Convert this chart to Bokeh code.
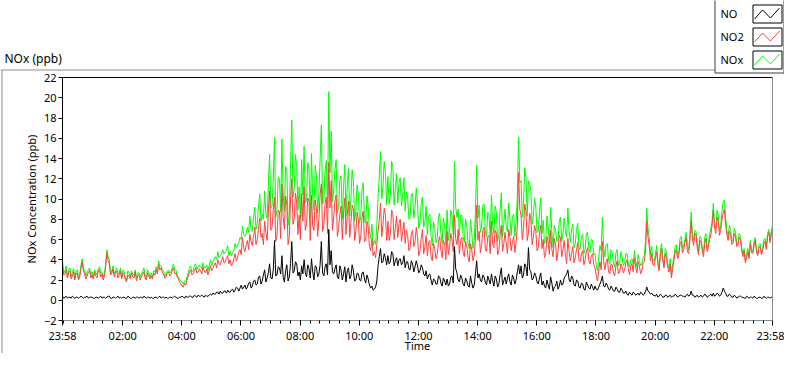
import numpy as np
from bokeh.plotting import figure
from bokeh.models import Range1d, FixedTicker
from bokeh.embed import file_html
from bokeh.resources import INLINE
from bokeh.core.properties import value

# ---- data: readings every 5 minutes starting 23:58 ("a"), plus readings
#      taken half-way between them ("b") ----
no2_a = [
    3.4, 2.6, 2.2, 2.9, 2.4, 2.0, 2.7, 2.3, 3.8, 2.6, 2.4, 2.9,
    2.5, 2.8, 2.2, 3.0, 2.6, 2.4, 4.7, 3.6, 2.7, 2.3, 2.9, 2.5,
    2.1, 2.6, 1.8, 2.4, 2.7, 2.2, 1.9, 2.5, 2.3, 2.8, 2.0, 2.4,
    2.4, 2.7, 3.0, 3.5, 3.2, 2.6, 2.3, 2.8, 2.5, 3.2, 2.7, 2.1,
    1.6, 1.3, 1.5, 2.4, 3.0, 2.6, 3.2, 2.8, 2.9, 3.3, 2.7, 2.5,
    3.4, 3.1, 3.7, 4.0, 3.5, 4.3, 3.8, 4.4, 4.0, 3.6, 4.6, 4.2,
    5.0, 6.2, 4.8, 5.9, 6.5, 5.4, 7.2, 6.0, 8.1, 6.6, 7.8, 5.9,
    10.8, 7.2, 10.2, 6.4, 8.8, 11.5, 7.0, 9.4, 6.2, 12.0, 8.1, 9.6,
    8.4, 10.5, 11.2, 7.6, 9.8, 10.4, 6.9, 9.1, 8.0, 11.5, 7.4, 10.2,
    13.6, 11.8, 8.2, 10.4, 7.1, 9.3, 8.6, 6.5, 9.8, 7.7, 8.9, 6.8,
    7.9, 6.4, 8.8, 5.9, 7.2, 4.9, 4.4, 4.2, 6.8, 9.6, 7.5, 8.4,
    7.8, 6.5, 8.6, 7.1, 6.2, 8.0, 6.8, 5.6, 6.4, 5.2, 6.9, 5.8,
    6.2, 4.8, 7.0, 5.3, 4.4, 5.9, 3.9, 5.1, 4.5, 6.3, 4.2, 5.5,
    6.8, 5.2, 6.0, 8.4, 5.5, 4.6, 6.2, 4.3, 5.4, 3.8, 5.0, 4.4,
    9.4, 6.8, 5.4, 7.2, 4.8, 6.4, 7.8, 5.2, 6.6, 4.9, 7.4, 5.6,
    5.6, 7.0, 4.9, 6.3, 5.8, 12.6, 8.4, 7.1, 8.8, 6.6, 7.9, 6.2,
    6.8, 5.2, 7.4, 6.0, 4.6, 5.8, 6.9, 4.3, 5.5, 4.8, 6.2, 5.0,
    4.5, 6.1, 3.9, 5.3, 4.2, 5.7, 3.8, 4.9, 4.0, 5.2, 3.6, 4.6,
    3.2, 1.9, 3.8, 5.8, 3.0, 4.1, 2.6, 3.5, 2.4, 3.9, 2.8, 3.3,
    3.0, 4.0, 2.5, 3.6, 4.2, 2.7, 3.4, 2.9, 3.8, 7.8, 5.4, 4.6,
    3.4, 4.8, 2.9, 5.1, 3.2, 4.2, 2.8, 2.2, 3.9, 5.0, 4.4, 5.8,
    5.0, 6.2, 4.6, 7.8, 5.4, 6.4, 4.5, 5.7, 4.3, 6.1, 5.2, 6.5,
    8.9, 6.6, 7.8, 6.9, 8.6, 7.4, 5.9, 6.5, 5.6, 6.3, 5.4, 6.0,
    4.3, 3.7, 4.8, 5.6, 4.6, 5.9, 4.4, 5.3, 4.9, 5.8, 6.3, 5.7,
    7.1,
]
no2_b = [
    2.5, 3.0, 2.7, 2.1, 2.8, 2.6, 2.0, 3.1, 2.9, 2.1, 2.8, 2.2,
    2.1, 2.4, 2.9, 2.3, 2.0, 3.3, 3.9, 2.5, 3.1, 2.7, 2.2, 2.9,
    2.7, 2.0, 2.5, 2.1, 2.3, 2.8, 2.4, 2.0, 2.6, 2.2, 2.7, 2.1,
    2.1, 2.5, 2.6, 3.0, 2.7, 2.2, 2.7, 2.4, 3.0, 2.6, 2.3, 1.8,
    1.4, 1.7, 2.0, 2.8, 2.5, 2.9, 2.7, 3.1, 2.6, 2.9, 3.1, 2.9,
    2.9, 3.5, 3.2, 3.6, 3.9, 3.7, 4.2, 3.6, 3.4, 4.1, 3.9, 4.8,
    4.5, 5.2, 5.5, 5.0, 5.8, 6.3, 5.5, 7.0, 6.2, 5.5, 6.7, 8.6,
    6.9, 9.0, 5.8, 8.9, 6.1, 8.2, 10.3, 5.5, 9.9, 7.5, 10.6, 6.5,
    6.0, 7.8, 6.9, 10.1, 5.9, 7.3, 9.9, 6.3, 10.4, 6.8, 9.5, 6.6,
    9.1, 6.9, 9.8, 6.3, 8.5, 6.0, 10.1, 8.4, 6.2, 9.4, 5.9, 8.7,
    5.6, 8.2, 5.8, 7.8, 5.3, 6.1, 4.8, 5.5, 8.0, 6.3, 9.1, 5.9,
    5.9, 8.9, 6.0, 8.3, 7.6, 5.8, 7.7, 6.9, 4.9, 6.6, 5.3, 7.2,
    4.4, 6.1, 4.6, 6.4, 5.7, 4.3, 5.6, 4.1, 5.8, 4.9, 5.9, 4.0,
    4.5, 6.6, 4.8, 6.1, 7.0, 5.9, 4.7, 5.8, 4.2, 5.6, 3.9, 6.1,
    5.9, 4.7, 6.9, 5.1, 6.3, 4.6, 5.5, 6.9, 4.5, 6.4, 4.8, 6.7,
    4.6, 6.2, 5.7, 4.7, 7.4, 9.0, 6.0, 9.5, 5.9, 8.6, 5.5, 7.4,
    4.9, 6.6, 5.1, 4.2, 6.3, 4.5, 5.0, 6.1, 3.9, 6.4, 4.3, 5.9,
    3.6, 4.8, 4.7, 3.7, 5.0, 3.9, 4.6, 3.5, 4.8, 3.9, 4.4, 3.5,
    2.4, 2.9, 3.0, 3.9, 3.8, 2.8, 3.6, 2.7, 3.4, 2.6, 3.6, 2.7,
    3.7, 3.1, 3.4, 2.8, 3.3, 3.8, 2.6, 3.7, 4.9, 6.2, 3.9, 3.5,
    4.1, 3.6, 4.3, 3.9, 4.6, 3.3, 3.6, 3.1, 4.7, 4.1, 5.6, 4.7,
    5.7, 4.8, 5.9, 6.1, 6.6, 5.1, 5.9, 4.9, 5.6, 4.8, 6.0, 7.4,
    7.1, 8.2, 6.4, 8.0, 9.0, 6.5, 6.8, 5.5, 6.6, 5.3, 6.2, 4.9,
    4.9, 4.2, 4.1, 4.7, 5.4, 4.8, 5.2, 4.5, 5.6, 5.0, 6.7, 6.5,
]

no_a = [
    0.4, 0.3, 0.2, 0.3, 0.4, 0.2, 0.3, 0.3, 0.3, 0.3, 0.4, 0.3,
    0.3, 0.2, 0.3, 0.3, 0.2, 0.3, 0.3, 0.4, 0.2, 0.3, 0.3, 0.2,
    0.2, 0.3, 0.2, 0.3, 0.2, 0.3, 0.3, 0.2, 0.3, 0.4, 0.2, 0.3,
    0.3, 0.2, 0.3, 0.3, 0.2, 0.3, 0.3, 0.2, 0.3, 0.3, 0.3, 0.2,
    0.3, 0.3, 0.4, 0.3, 0.4, 0.3, 0.4, 0.5, 0.4, 0.4, 0.5, 0.4,
    0.6, 0.7, 0.6, 0.8, 0.9, 0.7, 0.9, 1.0, 0.8, 1.1, 1.0, 1.2,
    1.2, 1.1, 1.5, 1.3, 1.8, 1.4, 2.0, 1.6, 2.4, 1.9, 3.0, 2.2,
    3.6, 2.1, 5.9, 2.5, 3.2, 4.4, 1.8, 3.5, 2.3, 5.8, 2.9, 3.6,
    2.8, 3.4, 4.0, 2.3, 3.1, 4.1, 2.0, 3.3, 2.6, 5.8, 2.4, 3.6,
    7.0, 4.9, 2.6, 3.5, 2.1, 3.0, 2.6, 1.8, 3.2, 2.4, 2.9, 2.0,
    2.6, 1.9, 2.8, 1.7, 2.1, 1.2, 1.0, 1.3, 3.4, 5.1, 3.8, 4.2,
    4.4, 3.8, 4.6, 3.9, 3.4, 4.1, 3.7, 3.2, 3.8, 3.0, 3.6, 3.3,
    3.4, 2.9, 3.2, 2.4, 2.1, 2.6, 1.5, 2.0, 1.6, 2.3, 1.4, 1.9,
    2.1, 1.6, 2.4, 5.3, 2.7, 1.8, 2.2, 1.4, 1.9, 1.3, 1.7, 1.5,
    3.9, 2.6, 1.8, 2.3, 1.5, 2.0, 2.6, 1.4, 2.1, 1.6, 3.2, 1.9,
    1.6, 2.6, 1.5, 2.2, 2.0, 3.5, 3.4, 2.5, 3.3, 5.2, 2.8, 2.2,
    2.4, 1.6, 2.7, 1.9, 1.2, 1.5, 2.3, 0.9, 1.4, 1.1, 2.0, 1.6,
    2.4, 3.0, 1.8, 2.2, 1.4, 1.9, 1.2, 1.6, 1.0, 1.5, 1.1, 1.3,
    1.4, 1.0, 1.6, 2.4, 1.3, 1.5, 1.0, 1.2, 0.9, 1.1, 0.8, 1.0,
    0.7, 0.6, 0.8, 0.5, 0.7, 0.6, 0.5, 0.7, 0.6, 1.3, 0.8, 0.7,
    0.5, 0.6, 0.4, 0.5, 0.3, 0.5, 0.4, 0.3, 0.4, 0.5, 0.4, 0.5,
    0.4, 0.5, 0.4, 0.9, 0.5, 0.4, 0.3, 0.5, 0.4, 0.5, 0.4, 0.6,
    0.7, 0.5, 0.6, 0.5, 1.2, 0.7, 0.4, 0.5, 0.3, 0.4, 0.3, 0.4,
    0.3, 0.2, 0.3, 0.3, 0.2, 0.3, 0.2, 0.3, 0.2, 0.3, 0.3, 0.2,
    0.3,
]
no_b = [
    0.2, 0.4, 0.3, 0.2, 0.3, 0.3, 0.2, 0.4, 0.2, 0.3, 0.2, 0.3,
    0.2, 0.3, 0.2, 0.4, 0.3, 0.2, 0.4, 0.2, 0.3, 0.2, 0.4, 0.3,
    0.3, 0.2, 0.4, 0.2, 0.3, 0.2, 0.3, 0.3, 0.2, 0.3, 0.3, 0.2,
    0.2, 0.3, 0.2, 0.4, 0.3, 0.2, 0.2, 0.3, 0.2, 0.4, 0.2, 0.3,
    0.4, 0.2, 0.3, 0.4, 0.3, 0.5, 0.3, 0.4, 0.5, 0.3, 0.4, 0.5,
    0.5, 0.6, 0.8, 0.6, 0.7, 0.9, 0.7, 0.8, 1.0, 0.8, 1.3, 0.9,
    1.5, 1.3, 1.1, 1.7, 1.2, 1.9, 1.5, 2.3, 1.6, 2.5, 1.8, 2.7,
    2.2, 3.0, 2.4, 3.3, 2.6, 2.3, 2.9, 1.9, 3.6, 2.7, 3.8, 2.4,
    2.0, 2.6, 2.7, 3.5, 2.2, 2.8, 3.4, 2.3, 3.5, 2.7, 3.3, 2.5,
    3.5, 2.8, 3.1, 2.3, 3.4, 2.0, 3.3, 2.9, 2.1, 3.5, 1.9, 2.7,
    2.0, 2.7, 2.1, 2.5, 1.5, 1.4, 1.1, 1.9, 4.3, 3.7, 4.6, 3.5,
    3.6, 4.8, 3.4, 4.2, 4.0, 3.5, 4.4, 3.8, 3.1, 3.9, 2.8, 3.9,
    2.7, 3.5, 2.6, 2.9, 2.5, 2.0, 2.1, 1.6, 2.4, 1.7, 2.2, 1.5,
    1.4, 2.3, 1.7, 3.1, 2.0, 2.5, 1.6, 2.2, 1.4, 2.4, 1.2, 2.6,
    2.2, 2.0, 2.5, 1.8, 2.4, 1.6, 1.9, 2.4, 1.3, 2.5, 1.5, 2.3,
    2.2, 1.8, 2.5, 1.6, 2.8, 2.6, 2.2, 3.6, 2.4, 3.0, 2.0, 2.7,
    1.8, 2.2, 1.5, 1.4, 2.0, 1.1, 1.7, 1.3, 1.9, 1.4, 1.5, 2.2,
    2.6, 2.0, 2.4, 1.5, 2.0, 1.3, 1.7, 1.1, 1.8, 1.2, 1.6, 1.0,
    1.1, 1.3, 1.9, 1.4, 1.7, 1.1, 1.4, 0.9, 1.3, 0.8, 1.2, 0.7,
    0.9, 0.5, 0.6, 0.8, 0.5, 0.7, 0.8, 0.5, 0.9, 0.9, 0.6, 0.5,
    0.4, 0.3, 0.6, 0.3, 0.5, 0.3, 0.5, 0.4, 0.6, 0.3, 0.5, 0.4,
    0.3, 0.6, 0.5, 0.5, 0.3, 0.5, 0.4, 0.3, 0.6, 0.3, 0.5, 0.4,
    0.4, 0.7, 0.4, 0.8, 0.9, 0.4, 0.6, 0.3, 0.5, 0.2, 0.4, 0.3,
    0.2, 0.4, 0.2, 0.3, 0.4, 0.2, 0.3, 0.2, 0.4, 0.2, 0.3, 0.3,
]

nox_a = [
    3.8, 2.9, 2.4, 3.2, 2.8, 2.2, 3.0, 2.6, 4.1, 2.9, 2.8, 3.2,
    2.8, 3.0, 2.5, 3.3, 2.8, 2.7, 5.0, 4.0, 2.9, 2.6, 3.2, 2.7,
    2.3, 2.9, 2.0, 2.7, 2.9, 2.5, 2.2, 2.7, 2.6, 3.2, 2.2, 2.7,
    2.7, 2.9, 3.3, 3.9, 3.4, 2.9, 2.6, 3.0, 2.8, 3.6, 3.0, 2.3,
    1.9, 1.6, 1.9, 2.7, 3.4, 2.9, 3.6, 3.3, 3.3, 3.7, 3.2, 2.9,
    4.0, 3.8, 4.3, 4.8, 4.4, 5.0, 4.7, 5.4, 4.8, 4.7, 5.6, 5.4,
    6.2, 7.3, 6.3, 7.2, 8.3, 6.8, 9.2, 7.6, 10.5, 8.5, 10.8, 8.1,
    14.4, 9.3, 16.1, 8.9, 12.0, 15.9, 8.8, 12.9, 8.5, 17.8, 11.0, 13.2,
    11.2, 13.9, 15.2, 9.9, 12.9, 14.5, 8.9, 12.4, 10.6, 17.3, 9.8, 13.8,
    20.6, 16.7, 10.8, 13.9, 9.2, 12.3, 11.2, 8.3, 13.0, 10.1, 11.8, 8.8,
    10.5, 8.3, 11.6, 7.6, 9.3, 6.1, 5.4, 5.5, 10.2, 14.7, 11.3, 12.6,
    12.2, 10.3, 13.2, 11.0, 9.6, 12.1, 10.5, 8.8, 10.2, 8.2, 10.5, 9.1,
    9.6, 7.7, 10.2, 7.7, 6.5, 8.5, 5.4, 7.1, 6.1, 8.6, 5.6, 7.4,
    8.9, 6.8, 8.4, 13.7, 8.2, 6.4, 8.4, 5.7, 7.3, 5.1, 6.7, 5.9,
    13.3, 9.4, 7.2, 9.5, 6.3, 8.4, 10.4, 6.6, 8.7, 6.5, 10.6, 7.5,
    7.2, 9.6, 6.4, 8.5, 7.8, 16.1, 11.8, 9.6, 12.1, 11.8, 10.7, 8.4,
    9.2, 6.8, 10.1, 7.9, 5.8, 7.3, 9.2, 5.2, 6.9, 5.9, 8.2, 6.6,
    6.9, 9.1, 5.7, 7.5, 5.6, 7.6, 5.0, 6.5, 5.0, 6.7, 4.7, 5.9,
    4.6, 2.9, 5.4, 8.2, 4.3, 5.6, 3.6, 4.7, 3.3, 5.0, 3.6, 4.3,
    3.7, 4.6, 3.3, 4.1, 4.9, 3.3, 3.9, 3.6, 4.4, 9.1, 6.2, 5.3,
    3.9, 5.4, 3.3, 5.6, 3.5, 4.7, 3.2, 2.5, 4.3, 5.5, 4.8, 6.3,
    5.4, 6.7, 5.0, 8.7, 5.9, 6.8, 4.8, 6.2, 4.7, 6.6, 5.6, 7.1,
    9.6, 7.1, 8.4, 7.4, 9.8, 8.1, 6.3, 7.0, 5.9, 6.7, 5.7, 6.4,
    4.6, 3.9, 5.1, 5.9, 4.8, 6.2, 4.6, 5.6, 5.1, 6.1, 6.6, 5.9,
    7.4,
]
nox_b = [
    2.7, 3.4, 3.0, 2.3, 3.1, 2.9, 2.2, 3.5, 3.1, 2.4, 3.0, 2.5,
    2.3, 2.7, 3.1, 2.7, 2.3, 3.5, 4.3, 2.7, 3.4, 2.9, 2.6, 3.2,
    3.0, 2.2, 2.9, 2.3, 2.6, 3.0, 2.7, 2.3, 2.8, 2.5, 3.0, 2.3,
    2.3, 2.8, 2.8, 3.4, 3.0, 2.4, 2.9, 2.7, 3.2, 3.0, 2.5, 2.1,
    1.8, 1.9, 2.3, 3.2, 2.8, 3.4, 3.0, 3.5, 3.1, 3.2, 3.5, 3.4,
    3.4, 4.1, 4.0, 4.2, 4.6, 4.6, 4.9, 4.4, 4.4, 4.9, 5.2, 5.7,
    6.0, 6.5, 6.6, 6.7, 7.0, 8.2, 7.0, 9.3, 7.8, 8.0, 8.5, 11.3,
    9.1, 12.0, 8.2, 12.2, 8.7, 10.5, 13.2, 7.4, 13.5, 10.2, 14.4, 8.9,
    8.0, 10.4, 9.6, 13.6, 8.1, 10.1, 13.3, 8.6, 13.9, 9.5, 12.8, 9.1,
    12.6, 9.7, 12.9, 8.6, 11.9, 8.0, 13.4, 11.3, 8.3, 12.9, 7.8, 11.4,
    7.6, 10.9, 7.9, 10.3, 6.8, 7.5, 5.9, 7.4, 12.3, 10.0, 13.7, 9.4,
    9.5, 13.7, 9.4, 12.5, 11.6, 9.3, 12.1, 10.7, 8.0, 10.5, 8.1, 11.1,
    7.1, 9.6, 7.2, 9.3, 8.2, 6.3, 7.7, 5.7, 8.2, 6.6, 8.1, 5.5,
    5.9, 8.9, 6.5, 9.2, 9.0, 8.4, 6.3, 8.0, 5.6, 8.0, 5.1, 8.7,
    8.1, 6.7, 9.4, 6.9, 8.7, 6.2, 7.4, 9.3, 5.8, 8.9, 6.3, 9.0,
    6.8, 8.0, 8.2, 6.3, 10.2, 11.6, 8.2, 13.1, 8.3, 11.6, 7.5, 10.1,
    6.7, 8.8, 6.6, 5.6, 8.3, 5.6, 6.7, 7.4, 5.8, 7.8, 5.8, 8.1,
    6.2, 6.8, 7.1, 5.2, 7.0, 5.2, 6.3, 4.6, 6.6, 5.1, 6.0, 4.5,
    3.5, 4.2, 4.9, 5.3, 5.5, 3.9, 5.0, 3.6, 4.7, 3.4, 4.8, 3.4,
    4.6, 3.6, 4.0, 3.6, 3.8, 4.5, 3.4, 4.2, 5.8, 7.1, 4.5, 4.0,
    4.5, 3.9, 4.9, 4.2, 5.1, 3.6, 4.1, 3.5, 5.3, 4.4, 6.1, 5.1,
    6.0, 5.4, 6.4, 6.6, 6.9, 5.6, 6.3, 5.2, 6.2, 5.1, 6.5, 7.8,
    7.5, 8.9, 6.8, 8.8, 9.9, 6.9, 7.4, 5.8, 7.1, 5.5, 6.6, 5.2,
    5.1, 4.6, 4.3, 5.0, 5.8, 5.0, 5.5, 4.7, 6.0, 5.2, 7.0, 6.8,
]


def interleave(a, b):
    out = []
    for i, v in enumerate(a):
        out.append(v)
        if i < len(b):
            out.append(b[i])
    return out


no2 = interleave(no2_a, no2_b)
no = interleave(no_a, no_b)
nox = interleave(nox_a, nox_b)

# sample times in minutes after midnight (first sample at 23:58 the day before)
minutes = np.arange(len(no2)) * 2.5 - 2

tick_minutes = [-2, 120, 240, 360, 480, 600, 720, 840, 960, 1080, 1200, 1320, 1438]
tick_labels = ["23:58", "02:00", "04:00", "06:00", "08:00", "10:00", "12:00",
               "14:00", "16:00", "18:00", "20:00", "22:00", "23:58"]
minor_minutes = list(range(0, 1440, 20))
y_ticks = list(range(-2, 23, 2))

series_names = ["NO", "NO2", "NOx"]
series_colors = ["#000000", "#ff4040", "#00ff00"]

FONT = "Noto Sans"

# ---- layout geometry (canvas pixels) ----
W, H = 784, 353
FL, FR, FT, FB = 62, 772, 77, 320       # data area of the chart
X0, X1, Y0, Y1 = -2, 1438, -2, 22       # data ranges shown in that area


def X(px):
    return X0 + (px - FL) * (X1 - X0) / (FR - FL)


def Y(py):
    return Y0 + (FB - py) * (Y1 - Y0) / (FB - FT)


# the canvas is the frame; the axes are pinned at the edges of the data area
p = figure(width=W, height=H, x_range=Range1d(X(0), X(W)), y_range=Range1d(Y(H), Y(0)),
           toolbar_location=None, output_backend="svg", min_border=0,
           background_fill_color="white", border_fill_color="white",
           outline_line_color=None)
p.grid.visible = False

p.line(minutes, nox, line_color=series_colors[2], line_width=1)
p.line(minutes, no2, line_color=series_colors[1], line_width=1)
p.line(minutes, no, line_color=series_colors[0], line_width=1)

# data-area border: black top, gray right
p.segment(x0=[X0], y0=[Y1], x1=[X1], y1=[Y1], line_color="#000000", line_width=1)
p.segment(x0=[X1], y0=[Y0], x1=[X1], y1=[Y1], line_color="#8c8c8c", line_width=1)

xa, ya = p.xaxis[0], p.yaxis[0]
xa.fixed_location = Y0
xa.bounds = (X0, X1)
ya.fixed_location = X0
ya.bounds = (Y0, Y1)

xa.ticker = FixedTicker(ticks=tick_minutes, minor_ticks=minor_minutes)
xa.major_label_overrides = {m: l for m, l in zip(tick_minutes, tick_labels)}
ya.ticker = FixedTicker(ticks=y_ticks, minor_ticks=[])

for ax in (xa, ya):
    ax.major_label_text_font = FONT
    ax.major_label_text_font_size = "11px"
    ax.major_label_text_color = "#000000"
    ax.major_tick_line_color = "#000000"
    ax.minor_tick_line_color = "#000000"
    ax.major_tick_in = 0
    ax.minor_tick_in = 0

xa.axis_line_color = "#8c8c8c"
xa.major_tick_out = 5
xa.minor_tick_out = 3
xa.major_label_standoff = 2
ya.axis_line_color = "#000000"
ya.major_tick_out = 4
ya.minor_tick_out = 0
ya.major_label_standoff = 2

# axis titles
p.text(x=[X(31)], y=[Y((FT + FB) / 2)], text=["NOx Concentration (ppb)"], angle=np.pi / 2,
       text_font=value(FONT), text_font_size="11px", text_align="center",
       text_baseline="middle", text_color="#000000")
p.text(x=[X((FL + FR) / 2)], y=[Y(345)], text=["Time"], text_font=value(FONT),
       text_font_size="11px", text_align="center", text_baseline="middle",
       text_color="#000000")

# panel frame lines and panel title
p.segment(x0=[X(0), X(1.5)], y0=[Y(69.5), Y(69.5)], x1=[X(714), X(1.5)], y1=[Y(69.5), Y(H)],
          line_color="#8c8c8c", line_width=1)
p.text(x=[X(4)], y=[Y(58)], text=["NOx (ppb)"], text_font=value(FONT),
       text_font_size="12px", text_align="left", text_baseline="middle",
       text_color="#000000")

# legend: name on the left, sample box on the right
p.quad(left=[X(714.5)], right=[X(783.5)], top=[Y(-3)], bottom=[Y(72.5)],
       fill_color="white", line_color="#3c3c3c", line_width=1)
row_top = [4.5, 27.5, 50.5]
row_mid = [13, 36, 59]
p.text(x=[X(720)] * 3, y=[Y(m) for m in row_mid], text=series_names,
       text_font=value(FONT), text_font_size="11px", text_align="left",
       text_baseline="middle", text_color="#000000")
p.quad(left=[X(752.5)] * 3, right=[X(781.5)] * 3, top=[Y(t) for t in row_top],
       bottom=[Y(t + 18) for t in row_top], fill_color="white",
       line_color="#000000", line_width=1)
zx = [754, 762, 770, 779]
zy_off = [14, 5, 13, 3]
p.multi_line(xs=[[X(v) for v in zx]] * 3,
             ys=[[Y(t + d) for d in zy_off] for t in row_top],
             line_color=series_colors, line_width=1)

open("out.html", "w").write(file_html(p, INLINE))
